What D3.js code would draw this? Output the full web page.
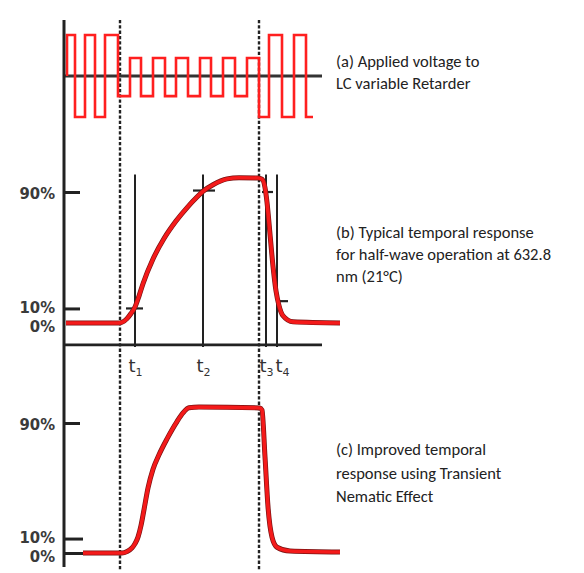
<!DOCTYPE html>
<html>
<head>
<meta charset="utf-8">
<script src="https://cdn.jsdelivr.net/npm/d3@7"></script>
<style>
  body { margin: 0; background: #fff; }
  .pct { font-family: "DejaVu Sans Condensed", "DejaVu Sans", sans-serif; font-weight: bold; font-size: 16.5px; fill: #3a3a3a; }
  .tlab { font-family: "DejaVu Sans", sans-serif; font-size: 18px; fill: #333; }
  .cap { font-family: Carlito, Calibri, Lato, "Open Sans", sans-serif; font-size: 16.5px; fill: #222; }
</style>
</head>
<body>
<svg id="chart" width="584" height="573"></svg>
<script>
// time in arbitrary units along the shared horizontal axis
const waveTimes = [3, 3, 11, 21, 31, 41, 54, 66, 77, 89, 101, 112, 124, 136, 147, 159, 171, 183, 195, 205, 218, 230, 242, 249];
const waveLevels = [0, 1, -1, 1, -1, 1, -0.49, 0.44, -0.49, 0.44, -0.49, 0.44, -0.49, 0.44, -0.49, 0.44, -0.49, 0.44, -1, 1, -1, 1, -1, -1];

// (b) typical response, % transmission
const typicalTimes = [2, 54, 58, 63, 67, 71, 75, 79, 89, 100, 112, 124, 133, 139, 149, 163, 175, 194, 198, 201, 203, 206, 209, 212, 215, 219, 229, 276];
const typicalValues = [0, 0, 0.5, 3, 6.5, 11, 18.5, 27, 44, 58, 70, 80, 86.5, 90.5, 95, 99, 99.8, 99.6, 98.8, 93, 83, 61, 39, 22, 12, 5, 0.8, 0];

// (c) improved response (transient nematic effect)
const tneTimes = [19, 58, 63, 68, 71, 74, 77, 80, 84, 89, 95, 103, 113, 119, 125, 135, 196, 198, 201, 204, 208, 213, 226, 276];
const tneValues = [0, 0, 1, 3.5, 6.5, 11, 19, 30, 45, 58, 68, 79, 91, 97, 100.5, 101, 100.4, 99, 66.5, 32, 11, 4, 1.4, 0.7];

// switching instants of the drive voltage
const switchTimes = [56, 195];

// t1..t4 marks on the typical response
const markNames = ["1", "2", "3", "4"];
const markTimes = [71, 139, 202, 213];
const markLevels = [10, 91, 90, 15];
const markFrom = [62, 129, 198, 212];
const markTo = [79, 151, 209, 224];

const pctLabels = [90, 10, 0];
const ticksB = [90, 10];
const ticksC = [90, 10, 0];

const captionA = ["(a) Applied voltage to", "LC variable Retarder"];
const captionB = ["(b) Typical temporal response", "for half-wave operation at 632.8", "nm (21°C)"];
const captionC = ["(c) Improved temporal", "response using Transient", "Nematic Effect"];

const svg = d3.select("#chart");

const AXIS_X = 64;
const x = d3.scaleLinear([0, 276], [AXIS_X, 340]);
const yWave = d3.scaleLinear([-1, 1], [117, 35]);
const yB = d3.scaleLinear([0, 90], [323, 192]);
const yC = d3.scaleLinear([0, 90], [553, 423]);
const AXIS_LEVEL = -15;
const LINE_END = 258;
const labelNudge = { 90: 6.5, 10: 4, 0: 8 };

function zip(a, b) {
  return a.map((d, i) => [d, b[i]]);
}

// vertical switching lines (dashed) behind everything
svg
  .append("g")
  .selectAll("line")
  .data(switchTimes)
  .join("line")
  .attr("x1", (d) => x(d))
  .attr("x2", (d) => x(d))
  .attr("y1", 20)
  .attr("y2", 571)
  .attr("stroke", "#222")
  .attr("stroke-width", 2.4)
  .attr("stroke-dasharray", "3.3,2");

// panel (a) square wave
svg
  .append("line")
  .attr("x1", x(0))
  .attr("x2", x(LINE_END))
  .attr("y1", yWave(0))
  .attr("y2", yWave(0))
  .attr("stroke", "#333")
  .attr("stroke-width", 3);

svg
  .append("path")
  .datum(zip(waveTimes, waveLevels))
  .attr("fill", "none")
  .attr("stroke", "#ff1f1f")
  .attr("stroke-width", 2.6)
  .attr(
    "d",
    d3
      .line()
      .x((d) => x(d[0]))
      .y((d) => yWave(d[1]))
      .curve(d3.curveStepAfter)
  );

function percentAxis(y, tickValues) {
  const g = svg.append("g").attr("transform", `translate(${AXIS_X},0)`);
  g.call(
    d3
      .axisLeft(y)
      .tickValues(pctLabels)
      .tickFormat((d) => d + "%")
      .tickSizeInner(-16)
      .tickSizeOuter(0)
      .tickPadding(9)
  );
  g.select(".domain").remove();
  g.selectAll(".tick line")
    .attr("stroke", "#222")
    .attr("stroke-width", 3)
    .attr("x2", (d) => (d < 50 && tickValues.length > 2 ? 19 : 16))
    .filter((d) => !tickValues.includes(d))
    .remove();
  g.selectAll(".tick text")
    .attr("class", "pct")
    .attr("dy", null)
    .attr("y", (d) => labelNudge[d])
    .attr("font-family", null)
    .attr("font-size", null);
  return g;
}

// panel (b)
percentAxis(yB, ticksB);

svg
  .append("line")
  .attr("x1", x(0))
  .attr("x2", x(LINE_END))
  .attr("y1", yB(AXIS_LEVEL))
  .attr("y2", yB(AXIS_LEVEL))
  .attr("stroke", "#222")
  .attr("stroke-width", 2.6);

const marks = svg
  .append("g")
  .selectAll("g")
  .data(markTimes.map((t, i) => ({ t, name: markNames[i], level: markLevels[i], from: markFrom[i], to: markTo[i] })))
  .join("g");

marks
  .append("line")
  .attr("x1", (d) => x(d.t))
  .attr("x2", (d) => x(d.t))
  .attr("y1", yB(102))
  .attr("y2", yB(AXIS_LEVEL - 1.5))
  .attr("stroke", "#222")
  .attr("stroke-width", 2);

marks
  .append("line")
  .attr("x1", (d) => x(d.from))
  .attr("x2", (d) => x(d.to))
  .attr("y1", (d) => yB(d.level))
  .attr("y2", (d) => yB(d.level))
  .attr("stroke", "#222")
  .attr("stroke-width", 2.2);

marks
  .append("text")
  .attr("class", "tlab")
  .attr("text-anchor", "middle")
  .attr("x", (d, i) => x(d.t) + (i === 3 ? 5.5 : 0.5))
  .attr("y", yB(AXIS_LEVEL) + 27)
  .text("t")
  .append("tspan")
  .attr("font-size", 11)
  .attr("dy", 4)
  .text((d) => d.name);

const responseLine = (y) =>
  d3
    .line()
    .x((d) => x(d[0]))
    .y((d) => y(d[1]))
    .curve(d3.curveMonotoneX);

function drawResponse(data, y) {
  const g = svg.append("g").attr("fill", "none").attr("stroke-linejoin", "round");
  g.append("path")
    .datum(data)
    .attr("stroke", "#7a1212")
    .attr("stroke-width", 5)
    .attr("d", responseLine(y));
  g.append("path")
    .datum(data)
    .attr("stroke", "#f41a1a")
    .attr("stroke-width", 3.6)
    .attr("d", responseLine(y));
}

drawResponse(zip(typicalTimes, typicalValues), yB);

// panel (c)
percentAxis(yC, ticksC);
drawResponse(zip(tneTimes, tneValues), yC);

// shared vertical axis
svg
  .append("line")
  .attr("x1", AXIS_X)
  .attr("x2", AXIS_X)
  .attr("y1", 20)
  .attr("y2", 567)
  .attr("stroke", "#222")
  .attr("stroke-width", 3);

// captions
function caption(lines, baseline, step) {
  svg
    .append("text")
    .attr("class", "cap")
    .selectAll("tspan")
    .data(lines)
    .join("tspan")
    .attr("x", 336)
    .attr("y", (d, i) => baseline + i * step)
    .text((d) => d);
}

caption(captionA, 67, 22);
caption(captionB, 238, 22);
caption(captionC, 455, 23.5);
</script>
</body>
</html>
